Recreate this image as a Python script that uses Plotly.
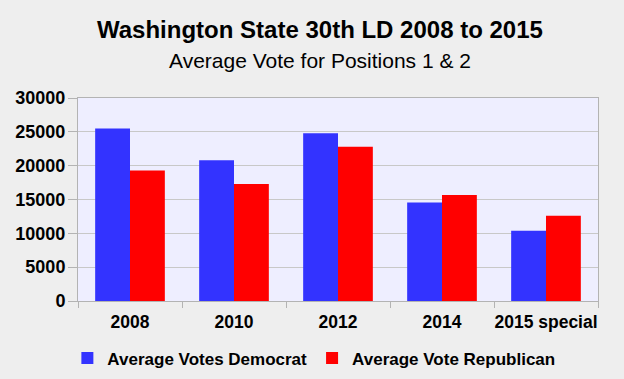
import plotly.graph_objects as go

categories = ["2008", "2010", "2012", "2014", "2015 special"]
dem_votes = [25500, 20800, 24800, 14550, 10400]
rep_votes = [19300, 17300, 22800, 15650, 12600]
y_ticks = [0, 5000, 10000, 15000, 20000, 25000, 30000]

fig = go.Figure()
fig.add_trace(go.Bar(x=categories, y=dem_votes, name="<b>Average Votes Democrat</b>",
                     marker=dict(color="#3333ff", line=dict(width=0))))
fig.add_trace(go.Bar(x=categories, y=rep_votes, name="<b>Average Vote Republican</b>",
                     marker=dict(color="#ff0000", line=dict(width=0))))

font_family = "Liberation Sans, Arial, sans-serif"
fig.update_layout(
    width=624, height=379,
    margin=dict(l=78, r=26, t=98, b=78, autoexpand=False),
    paper_bgcolor="#eeeeee",
    plot_bgcolor="#eeeeff",
    barmode="group",
    bargap=0.33,
    bargroupgap=0,
    showlegend=True,
    legend=dict(orientation="h", xref="container", yref="container",
                x=0.503, xanchor="center", y=0.054, yanchor="middle",
                font=dict(family=font_family, size=17, color="#000000"),
                bgcolor="rgba(0,0,0,0)", itemwidth=30, traceorder="normal"),
    font=dict(family=font_family, color="#000000"),
    annotations=[
        dict(text="<b>Washington State 30th LD 2008 to 2015</b>", xref="paper", yref="paper",
             x=0.466, y=1.0, xanchor="center", yanchor="middle", yshift=69, showarrow=False,
             font=dict(family=font_family, size=24, color="#000000")),
        dict(text="Average Vote for Positions 1 & 2", xref="paper", yref="paper",
             x=0.466, y=1.0, xanchor="center", yanchor="middle", yshift=38, showarrow=False,
             font=dict(family=font_family, size=21, color="#000000")),
    ],
)
fig.update_xaxes(
    showgrid=False, showline=True, linecolor="#b3b3b3", linewidth=1, mirror=True,
    ticks="outside", tickson="boundaries", ticklen=6, tickcolor="#b3b3b3",
    tickangle=0, ticklabelstandoff=5,
    tickfont=dict(family=font_family, size=17.5, color="#000000"),
    tickprefix="<b>", ticksuffix="</b>",
)
fig.update_yaxes(
    range=[0, 30000], tickvals=y_ticks, ticktext=[f"<b>{v}</b>" for v in y_ticks],
    showgrid=True, gridcolor="#c8c8c8", gridwidth=1,
    showline=True, linecolor="#b3b3b3", linewidth=1, mirror=True,
    ticks="outside", ticklen=9, tickcolor="#b3b3b3", ticklabelstandoff=-1,
    tickfont=dict(family=font_family, size=18, color="#000000"),
    zeroline=False,
)
fig.write_html(
    "out.html",
    config={"displayModeBar": False},
    post_script="document.body.style.margin='0';document.body.style.background='#eeeeee';",
)
